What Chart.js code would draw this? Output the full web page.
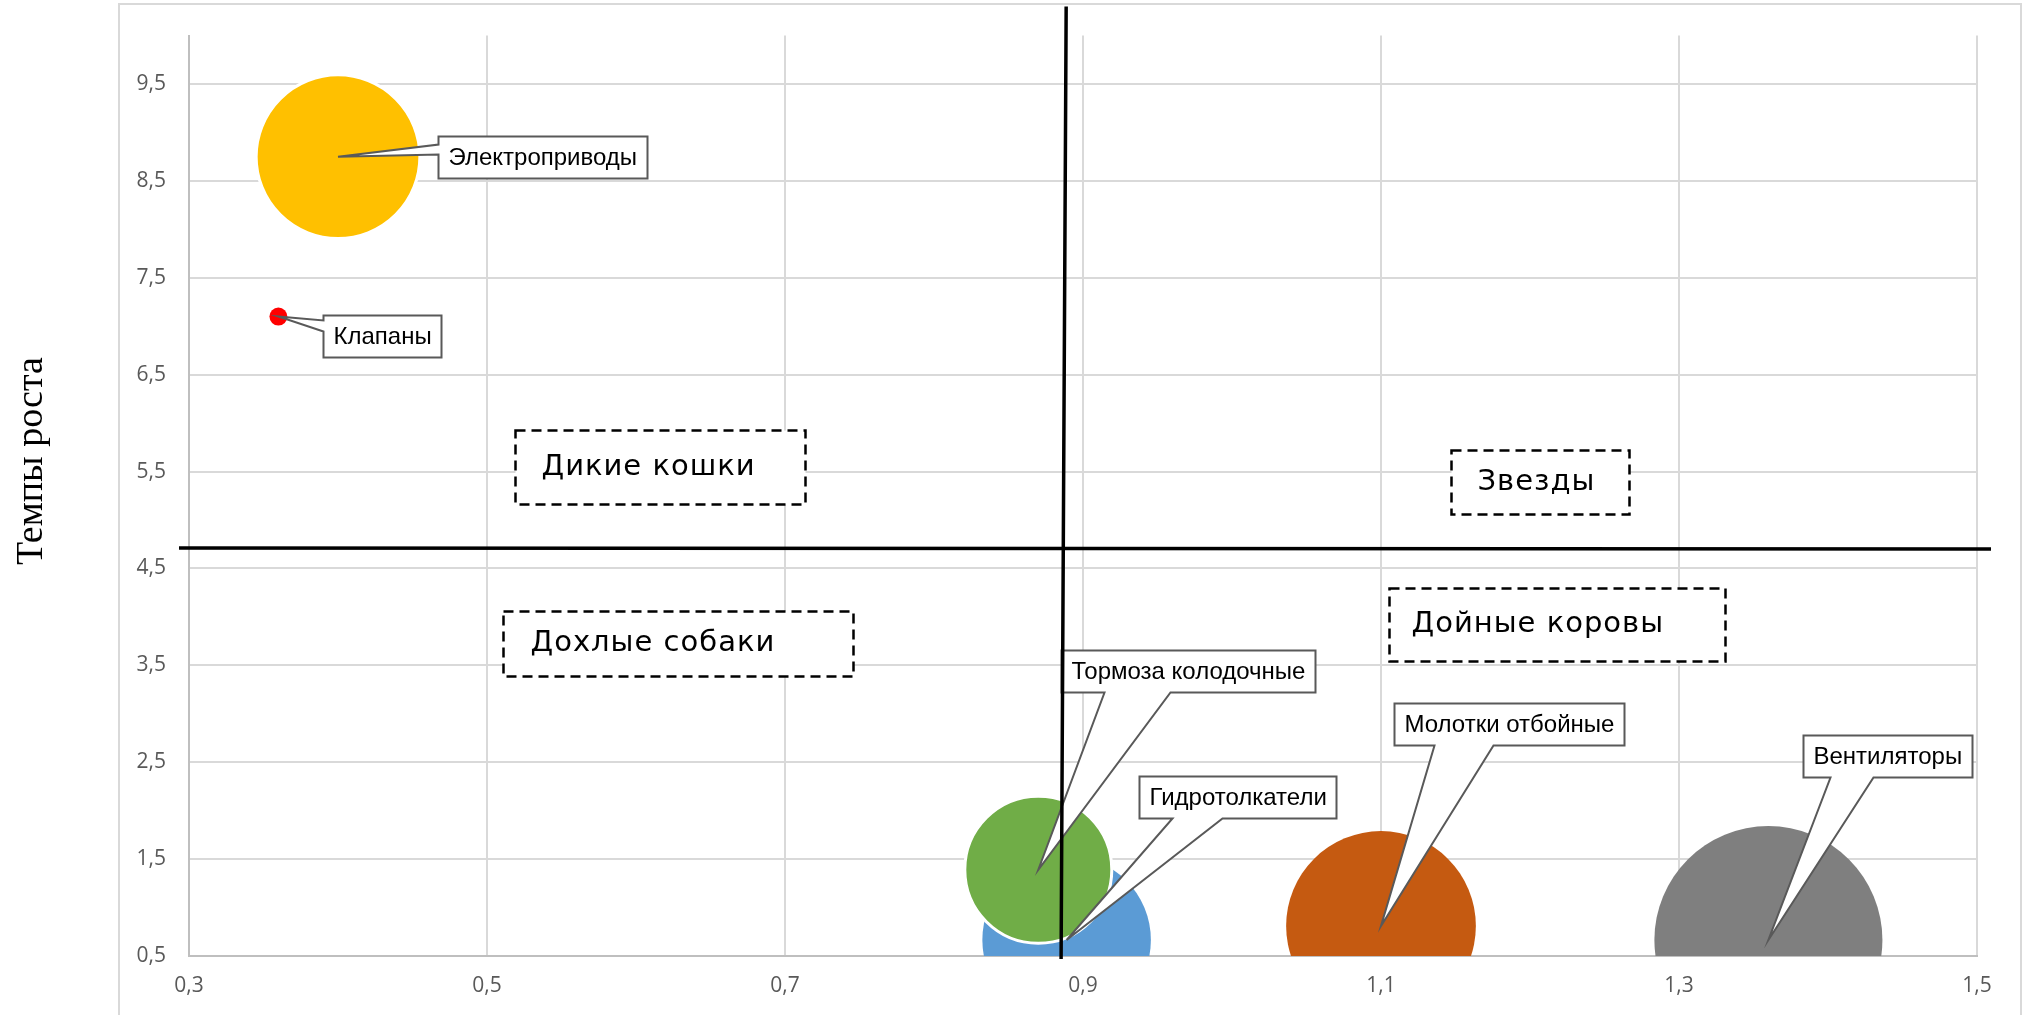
<!DOCTYPE html>
<html>
<head>
<meta charset="utf-8">
<script src="https://cdn.jsdelivr.net/npm/chart.js@4.4.1/dist/chart.umd.min.js"></script>
<style>
  html, body { margin: 0; padding: 0; background: #ffffff; }
  #wrap { width: 2031px; height: 1015px; }
</style>
</head>
<body>
<div id="wrap"><canvas id="bcg-chart" width="2031" height="1015"></canvas></div>
<script>
// dados
const produtos = ["Электроприводы", "Клапаны", "Тормоза колодочные", "Гидротолкатели", "Молотки отбойные", "Вентиляторы"];
const dolyaRynka = [0.40, 0.36, 0.87, 0.889, 1.10, 1.36];   // eixo X
const tempyRosta = [8.75, 7.10, 1.39, 0.665, 0.81, 0.665];  // eixo Y
const obem = [67, 0.8, 54, 71, 90, 130];                     // tamanho da bolha (área)
const kvadranty = ["Дикие кошки", "Звезды", "Дохлые собаки", "Дойные коровы"];
const granicaX = 0.887;
const granicaY = 4.707;
const xTicks = [0.3, 0.5, 0.7, 0.9, 1.1, 1.3, 1.5];
const yTicks = [0.5, 1.5, 2.5, 3.5, 4.5, 5.5, 6.5, 7.5, 8.5, 9.5];
const yTitulo = "Темпы роста";

// estilo
const cores = ["#FFC000", "#FF0000", "#70AD47", "#5B9BD5", "#C55A11", "#7F7F7F"];
const bordas = [3, 0, 3, 0, 0, 0];

function fmt(v) {
  return Number(v).toFixed(1).replace('.', ',');
}

// caixas das etiquetas: deslocamento do canto sup. esq. em relação ao ponto
const layoutChamadas = [
  { dx: 100, dy: -21, lado: 'esq', b1: 8, b2: 18 },
  { dx: 45, dy: -2, lado: 'esq', b1: 5, b2: 16 },
  { dx: 23, dy: -220, lado: 'baixo', b1: 43, b2: 109 },
  { dx: 72, dy: -164, lado: 'baixo', b1: 33, b2: 83 },
  { dx: 13, dy: -223, lado: 'baixo', b1: 40, b2: 99 },
  { dx: 35, dy: -205, lado: 'baixo', b1: 27, b2: 70 },
];

// caixas tracejadas dos quadrantes (centro em unidades dos eixos)
const layoutKvadr = [
  { cx: 0.616, cy: 5.546, w: 290, h: 74, pad: 26 },
  { cx: 1.207, cy: 5.392, w: 178, h: 64, pad: 26 },
  { cx: 0.628, cy: 3.729, w: 350, h: 65, pad: 27 },
  { cx: 1.218, cy: 3.924, w: 336, h: 73, pad: 22 },
];

const fundo = {
  id: 'fundo',
  beforeDraw(chart) {
    const ctx = chart.ctx;
    ctx.save();
    ctx.fillStyle = '#ffffff';
    ctx.fillRect(0, 0, chart.width, chart.height);
    ctx.strokeStyle = '#d9d9d9';
    ctx.lineWidth = 2;
    ctx.strokeRect(119, 4, 1902, 1040);
    ctx.translate(42, 461);
    ctx.rotate(-Math.PI / 2);
    ctx.font = '38px "Liberation Serif"';
    ctx.fillStyle = '#000000';
    ctx.textAlign = 'center';
    ctx.textBaseline = 'alphabetic';
    ctx.fillText(yTitulo, 0, 0);
    ctx.restore();
  }
};

function desenhaChamada(ctx, px, py, texto, c) {
  ctx.font = '24px "Liberation Sans"';
  const w = Math.round(ctx.measureText(texto).width + 20);
  const h = 42;
  const x = Math.round(px + c.dx) + 0.5;
  const y = Math.round(py + c.dy) + 0.5;
  ctx.beginPath();
  if (c.lado === 'esq') {
    ctx.moveTo(x, y);
    ctx.lineTo(x + w, y);
    ctx.lineTo(x + w, y + h);
    ctx.lineTo(x, y + h);
    ctx.lineTo(x, y + c.b2);
    ctx.lineTo(px, py);
    ctx.lineTo(x, y + c.b1);
  } else {
    ctx.moveTo(x, y);
    ctx.lineTo(x + w, y);
    ctx.lineTo(x + w, y + h);
    ctx.lineTo(x + c.b2, y + h);
    ctx.lineTo(px, py);
    ctx.lineTo(x + c.b1, y + h);
    ctx.lineTo(x, y + h);
  }
  ctx.closePath();
  ctx.fillStyle = '#ffffff';
  ctx.fill();
  ctx.strokeStyle = '#595959';
  ctx.lineWidth = 2;
  ctx.lineJoin = 'miter';
  ctx.stroke();
  ctx.fillStyle = '#000000';
  ctx.textAlign = 'left';
  ctx.textBaseline = 'middle';
  ctx.fillText(texto, x + 10, y + h / 2 + 1);
}

const anotacoes = {
  id: 'anotacoes',
  afterDatasetsDraw(chart) {
    const ctx = chart.ctx;
    const xs = chart.scales.x;
    const ys = chart.scales.y;
    ctx.save();

    // quadrantes
    kvadranty.forEach((nome, i) => {
      const k = layoutKvadr[i];
      const cx = xs.getPixelForValue(k.cx);
      const cy = ys.getPixelForValue(k.cy);
      const x = Math.round(cx - k.w / 2) + 0.5;
      const y = Math.round(cy - k.h / 2) + 0.5;
      ctx.fillStyle = '#ffffff';
      ctx.fillRect(x, y, k.w, k.h);
      ctx.setLineDash([10, 6]);
      ctx.strokeStyle = '#000000';
      ctx.lineWidth = 2.5;
      ctx.strokeRect(x, y, k.w, k.h);
      ctx.setLineDash([]);
      ctx.font = '29px "DejaVu Sans"';
      ctx.letterSpacing = '1px';
      ctx.fillStyle = '#000000';
      ctx.textAlign = 'left';
      ctx.textBaseline = 'middle';
      ctx.fillText(nome, x + k.pad, cy);
      ctx.letterSpacing = '0px';
    });

    // etiquetas
    produtos.forEach((nome, i) => {
      const p = chart.getDatasetMeta(i).data[0];
      desenhaChamada(ctx, p.x, p.y, nome, layoutChamadas[i]);
    });

    // linhas divisórias
    ctx.strokeStyle = '#000000';
    ctx.lineWidth = 3.5;
    ctx.beginPath();
    ctx.moveTo(xs.getPixelForValue(granicaX + 0.0017), ys.getPixelForValue(10.3));
    ctx.lineTo(xs.getPixelForValue(granicaX - 0.0017), ys.getPixelForValue(0.47));
    ctx.moveTo(xs.getPixelForValue(0.2933), ys.getPixelForValue(granicaY + 0.005));
    ctx.lineTo(xs.getPixelForValue(1.5094), ys.getPixelForValue(granicaY - 0.005));
    ctx.stroke();
    ctx.restore();
  }
};

const datasets = produtos.map((nome, i) => ({
  label: nome,
  data: [{ x: dolyaRynka[i], y: tempyRosta[i], r: 10 * Math.sqrt(obem[i]) }],
  backgroundColor: cores[i],
  borderColor: '#ffffff',
  borderWidth: bordas[i],
  hoverRadius: 0,
  clip: 0,
}));

const tickFont = { family: 'Open Sans', size: 21 };

const config = {
  type: 'bubble',
  data: { datasets: datasets },
  options: {
    responsive: false,
    animation: false,
    devicePixelRatio: 1,
    events: [],
    layout: {
      autoPadding: false,
      padding: { left: 0, top: 33, right: 54, bottom: 0 },
    },
    plugins: {
      legend: { display: false },
      tooltip: { enabled: false },
    },
    scales: {
      x: {
        type: 'linear',
        min: 0.3,
        max: 1.5,
        afterBuildTicks: function (scale) {
          scale.ticks = xTicks.map(v => ({ value: v }));
        },
        afterFit: function (scale) {
          scale.height = 59;
        },
        grid: { color: '#d9d9d9', lineWidth: 2, drawTicks: false },
        border: { color: '#bfbfbf', width: 2 },
        ticks: {
          padding: 17,
          color: '#595959',
          font: tickFont,
          maxRotation: 0,
          autoSkip: false,
          callback: v => fmt(v),
        },
      },
      y: {
        type: 'linear',
        min: 0.5,
        max: 10,
        afterBuildTicks: function (scale) {
          scale.ticks = yTicks.map(v => ({ value: v }));
        },
        afterFit: function (scale) {
          scale.width = 189;
        },
        grid: { color: '#d9d9d9', lineWidth: 2, drawTicks: false },
        border: { color: '#bfbfbf', width: 2 },
        ticks: {
          padding: 23,
          color: '#595959',
          font: tickFont,
          autoSkip: false,
          callback: v => fmt(v),
        },
      },
    },
  },
  plugins: [fundo, anotacoes],
};

const ctx = document.getElementById('bcg-chart').getContext('2d');
const bcgChart = new Chart(ctx, config);
</script>
</body>
</html>
